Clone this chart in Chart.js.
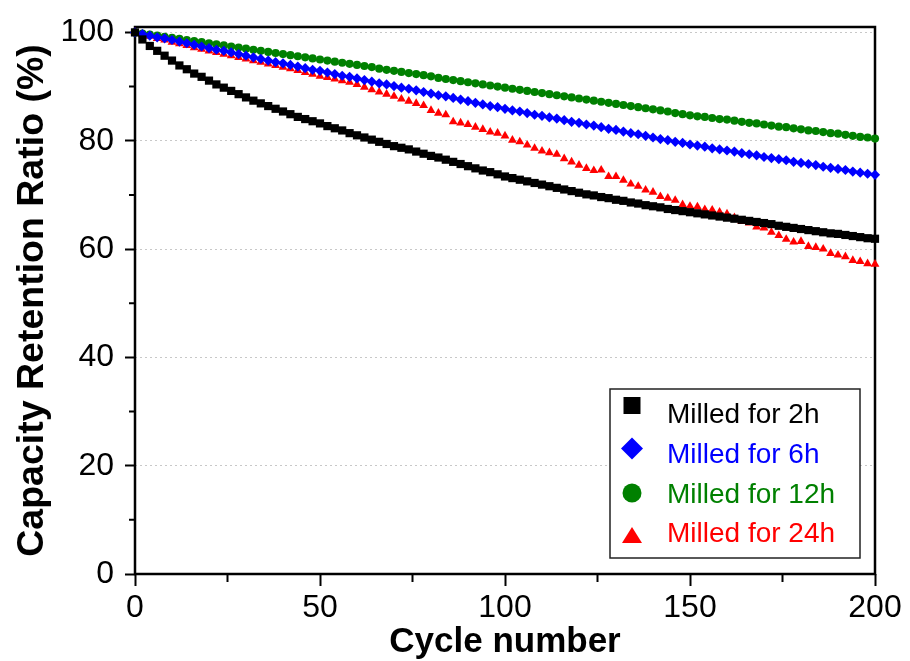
<!DOCTYPE html>
<html>
<head>
<meta charset="utf-8">
<script src="https://cdn.jsdelivr.net/npm/chart.js@4.4.1/dist/chart.umd.min.js"></script>
<style>
  html, body { margin: 0; padding: 0; background: #fff; }
  #chart { display: block; }
</style>
</head>
<body>
<canvas id="chart" width="910" height="661"></canvas>
<script>
// cycle numbers (x)
const cycles = [
  0, 2, 4, 6, 8, 10, 12, 14, 16, 18,
  20, 22, 24, 26, 28, 30, 32, 34, 36, 38,
  40, 42, 44, 46, 48, 50, 52, 54, 56, 58,
  60, 62, 64, 66, 68, 70, 72, 74, 76, 78,
  80, 82, 84, 86, 88, 90, 92, 94, 96, 98,
  100, 102, 104, 106, 108, 110, 112, 114, 116, 118,
  120, 122, 124, 126, 128, 130, 132, 134, 136, 138,
  140, 142, 144, 146, 148, 150, 152, 154, 156, 158,
  160, 162, 164, 166, 168, 170, 172, 174, 176, 178,
  180, 182, 184, 186, 188, 190, 192, 194, 196, 198,
  200
];

// capacity retention (%)
const milled2h = [
  100.0, 98.7, 97.5, 96.6, 95.7, 94.8, 93.9, 93.2, 92.4, 91.8,
  91.1, 90.4, 89.8, 89.2, 88.6, 88.0, 87.4, 86.9, 86.4, 85.9,
  85.4, 84.9, 84.4, 84.0, 83.6, 83.2, 82.7, 82.3, 81.9, 81.4,
  81.0, 80.6, 80.2, 79.8, 79.4, 79.0, 78.7, 78.4, 78.0, 77.6,
  77.2, 76.9, 76.5, 76.1, 75.7, 75.3, 74.9, 74.5, 74.2, 73.8,
  73.4, 73.1, 72.8, 72.5, 72.2, 71.9, 71.6, 71.3, 71.0, 70.7,
  70.4, 70.1, 69.9, 69.6, 69.4, 69.1, 68.9, 68.6, 68.4, 68.1,
  67.9, 67.7, 67.4, 67.2, 67.0, 66.8, 66.6, 66.4, 66.2, 66.0,
  65.8, 65.6, 65.4, 65.2, 65.0, 64.8, 64.6, 64.3, 64.1, 63.9,
  63.7, 63.5, 63.3, 63.1, 62.9, 62.8, 62.6, 62.4, 62.2, 62.0,
  61.9
];

const milled6h = [
  100.0, 99.7, 99.4, 99.1, 98.9, 98.6, 98.3, 98.0, 97.7, 97.4,
  97.1, 96.8, 96.6, 96.3, 96.0, 95.7, 95.4, 95.1, 94.8, 94.5,
  94.3, 94.0, 93.7, 93.4, 93.1, 92.9, 92.6, 92.3, 92.0, 91.8,
  91.5, 91.2, 90.9, 90.6, 90.4, 90.1, 89.8, 89.6, 89.3, 89.0,
  88.7, 88.4, 88.2, 87.9, 87.6, 87.3, 87.0, 86.7, 86.4, 86.2,
  85.9, 85.6, 85.4, 85.1, 84.8, 84.6, 84.3, 84.1, 83.8, 83.5,
  83.3, 83.0, 82.8, 82.5, 82.2, 82.0, 81.7, 81.4, 81.2, 80.9,
  80.6, 80.3, 80.1, 79.8, 79.6, 79.3, 79.1, 78.9, 78.6, 78.4,
  78.2, 78.0, 77.7, 77.5, 77.3, 77.0, 76.8, 76.6, 76.4, 76.1,
  75.9, 75.7, 75.5, 75.2, 75.0, 74.8, 74.6, 74.3, 74.1, 73.9,
  73.7
];

const milled12h = [
  100.0, 99.8, 99.6, 99.4, 99.2, 99.0, 98.8, 98.6, 98.4, 98.2,
  98.0, 97.8, 97.6, 97.4, 97.2, 97.0, 96.8, 96.6, 96.4, 96.2,
  96.0, 95.8, 95.6, 95.4, 95.2, 95.0, 94.8, 94.6, 94.4, 94.2,
  94.0, 93.8, 93.6, 93.3, 93.1, 92.9, 92.7, 92.5, 92.3, 92.1,
  91.9, 91.6, 91.4, 91.2, 91.0, 90.8, 90.6, 90.4, 90.2, 90.0,
  89.8, 89.6, 89.4, 89.2, 89.0, 88.8, 88.6, 88.4, 88.2, 88.0,
  87.8, 87.6, 87.4, 87.2, 87.0, 86.8, 86.6, 86.4, 86.2, 86.0,
  85.8, 85.6, 85.4, 85.1, 84.9, 84.7, 84.5, 84.4, 84.2, 84.0,
  83.9, 83.7, 83.5, 83.3, 83.2, 83.0, 82.8, 82.6, 82.5, 82.3,
  82.1, 81.9, 81.8, 81.6, 81.4, 81.3, 81.1, 80.9, 80.7, 80.6,
  80.4
];

const milled24h = [
  100.0, 99.6, 99.3, 98.9, 98.6, 98.2, 97.9, 97.6, 97.2, 96.9,
  96.6, 96.3, 96.0, 95.7, 95.4, 95.1, 94.8, 94.5, 94.2, 93.9,
  93.6, 93.3, 93.0, 92.6, 92.3, 91.9, 91.7, 91.4, 91.1, 90.8,
  90.4, 89.9, 89.4, 89.0, 88.6, 88.2, 87.7, 87.3, 86.9, 86.5,
  85.6, 85.1, 84.8, 83.5, 83.3, 83.0, 82.5, 82.1, 81.6, 81.4,
  80.9, 80.1, 79.8, 79.2, 78.6, 78.1, 77.8, 77.5, 76.7, 76.1,
  75.5, 74.9, 74.5, 74.6, 73.4, 73.4, 72.7, 72.0, 71.6, 70.9,
  70.5, 69.7, 69.4, 69.0, 68.2, 67.9, 67.8, 67.3, 67.2, 66.8,
  66.5, 65.8, 65.1, 64.8, 64.1, 63.9, 63.1, 62.5, 61.8, 61.3,
  61.4, 60.5, 60.3, 60.0, 59.2, 58.9, 58.6, 57.9, 57.7, 57.3,
  57.2
];

const seriesNames = ['Milled for 2h', 'Milled for 6h', 'Milled for 12h', 'Milled for 24h'];
const xTicks = [0, 50, 100, 150, 200];
const xMinorTicks = [25, 75, 125, 175];
const yTicks = [0, 20, 40, 60, 80, 100];
const yMinorTicks = [10, 30, 50, 70, 90];

Chart.defaults.font.family = '"Liberation Sans", Arial, sans-serif';
Chart.defaults.color = '#000';

function toPoints(values) {
    return values.map((v, i) => ({ x: cycles[i], y: v }));
}

function makeDataset(label, values, color, style, radius) {
    return {
        label: label,
        data: toPoints(values),
        backgroundColor: color,
        borderColor: color,
        pointStyle: style,
        pointRadius: radius,
        pointBorderWidth: 0,
        showLine: false,
        clip: false
    };
}

// frame around plot + short minor ticks
const framePlugin = {
    id: 'frame',
    beforeDatasetsDraw(chart) {
        const ctx = chart.ctx;
        const a = chart.chartArea;
        const x = chart.scales.x;
        const y = chart.scales.y;
        ctx.save();
        ctx.strokeStyle = '#000';
        ctx.lineWidth = 2;
        ctx.beginPath();
        xMinorTicks.forEach(v => {
            const px = x.getPixelForValue(v);
            ctx.moveTo(px, a.bottom);
            ctx.lineTo(px, a.bottom + 8);
        });
        yMinorTicks.forEach(v => {
            const py = y.getPixelForValue(v);
            ctx.moveTo(a.left, py);
            ctx.lineTo(a.left - 6, py);
        });
        ctx.stroke();
        ctx.lineWidth = 2.5;
        ctx.strokeRect(a.left, a.top, a.right - a.left, a.bottom - a.top);
        ctx.restore();
    }
};

// boxed legend inside the plot, text coloured like the markers
const legendPlugin = {
    id: 'boxLegend',
    afterDatasetsDraw(chart) {
        const ctx = chart.ctx;
        const box = { left: 610, top: 389, right: 860, bottom: 558 };
        const baselines = [423, 463, 502.5, 542];
        const markY = [405.5, 448.5, 493, 536];
        const mx = 632;
        ctx.save();
        ctx.fillStyle = '#fff';
        ctx.fillRect(box.left, box.top, box.right - box.left, box.bottom - box.top);
        ctx.strokeStyle = '#222';
        ctx.lineWidth = 1.5;
        ctx.strokeRect(box.left, box.top, box.right - box.left, box.bottom - box.top);

        ctx.font = '28px "Liberation Sans", Arial, sans-serif';
        ctx.textAlign = 'left';
        ctx.textBaseline = 'alphabetic';
        chart.data.datasets.forEach((ds, i) => {
            const my = markY[i];
            ctx.fillStyle = ds.backgroundColor;
            ctx.beginPath();
            if (ds.pointStyle === 'rect') {
                ctx.rect(mx - 8.5, my - 8.5, 17, 17);
            } else if (ds.pointStyle === 'rectRot') {
                ctx.moveTo(mx - 11, my);
                ctx.lineTo(mx, my - 11);
                ctx.lineTo(mx + 11, my);
                ctx.lineTo(mx, my + 11);
                ctx.closePath();
            } else if (ds.pointStyle === 'circle') {
                ctx.arc(mx, my, 9.5, 0, Math.PI * 2);
            } else {
                ctx.moveTo(mx - 10, my + 7);
                ctx.lineTo(mx + 10, my + 7);
                ctx.lineTo(mx, my - 9);
                ctx.closePath();
            }
            ctx.fill();
            ctx.fillText(ds.label, 667, baselines[i]);
        });
        ctx.restore();
    }
};

const chartData = {
    datasets: [
        makeDataset(seriesNames[0], milled2h, '#000000', 'rect', 5.8),
        makeDataset(seriesNames[1], milled6h, '#0000ff', 'rectRot', 5.1),
        makeDataset(seriesNames[2], milled12h, '#008000', 'circle', 4.1),
        makeDataset(seriesNames[3], milled24h, '#ff0000', 'triangle', 5.1)
    ]
};

const config = {
    type: 'scatter',
    data: chartData,
    options: {
        responsive: false,
        animation: false,
        devicePixelRatio: 1,
        events: [],
        layout: {
            padding: { top: 24, right: 35, left: 0, bottom: 0 }
        },
        plugins: {
            legend: { display: false },
            tooltip: { enabled: false }
        },
        scales: {
            x: {
                type: 'linear',
                min: 0,
                max: 200,
                afterBuildTicks: (scale) => { scale.ticks = xTicks.map(v => ({ value: v })); },
                afterFit: (scale) => { scale.height = 87; },
                ticks: {
                    font: { size: 32, lineHeight: 1 },
                    color: '#000',
                    padding: 6,
                    maxRotation: 0
                },
                grid: {
                    drawOnChartArea: false,
                    tickLength: 12,
                    tickWidth: 2,
                    tickColor: '#000'
                },
                border: { display: false },
                title: {
                    display: true,
                    text: 'Cycle number',
                    font: { size: 35, weight: 'bold', lineHeight: 1 },
                    color: '#000',
                    padding: 1
                }
            },
            y: {
                type: 'linear',
                min: 0,
                max: 101,
                afterBuildTicks: (scale) => { scale.ticks = yTicks.map(v => ({ value: v })); },
                afterFit: (scale) => { scale.width = 135; },
                ticks: {
                    font: { size: 32, lineHeight: 1 },
                    color: '#000',
                    padding: 11
                },
                grid: {
                    color: '#c8c8c8',
                    lineWidth: 1,
                    tickLength: 10,
                    tickWidth: 2,
                    tickColor: '#000'
                },
                border: { display: false, dash: [2, 3] },
                title: {
                    display: true,
                    text: 'Capacity Retention Ratio (%)',
                    font: { size: 37.5, weight: 'bold', lineHeight: 1 },
                    color: '#000',
                    padding: 14
                }
            }
        }
    },
    plugins: [framePlugin, legendPlugin]
};

const chart = new Chart(document.getElementById('chart'), config);
</script>
</body>
</html>
